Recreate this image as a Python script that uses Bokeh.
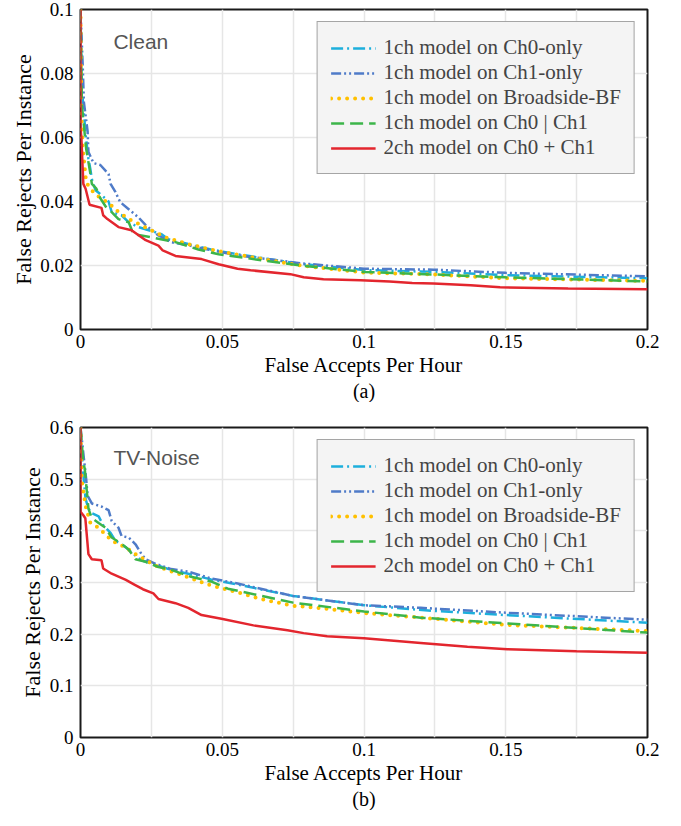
from bokeh.plotting import figure
from bokeh.models import FixedTicker, Label, Legend, LegendItem, Title
from bokeh.layouts import column
from bokeh.embed import file_html
from bokeh.resources import INLINE

SERIF = "Liberation Serif"
SANS = "Liberation Sans"

series_names = [
    "1ch model on Ch0-only",
    "1ch model on Ch1-only",
    "1ch model on Broadside-BF",
    "1ch model on Ch0 | Ch1",
    "2ch model on Ch0 + Ch1",
]
colors = ["#1DAFDC", "#4F7BC8", "#FFC000", "#3CB54A", "#E3262E"]
dashes = ["12 4 2 4", "10 3 2 3 2 3", "0 8", "13 6", "solid"]
widths = [2.5, 2.5, 4, 2.5, 2.5]

x_ticks = [0, 0.05, 0.1, 0.15, 0.2]
x_tick_labels = ["0", "0.05", "0.1", "0.15", "0.2"]
x_grid = [0.025, 0.05, 0.075, 0.1, 0.125, 0.15, 0.175]

# ---- (a) Clean ----
clean_yticks = [0, 0.02, 0.04, 0.06, 0.08, 0.1]
clean_ylabels = ["0", "0.02", "0.04", "0.06", "0.08", "0.1"]

clean_ch0_x = [0, 0.0005, 0.0018, 0.0028, 0.0035, 0.004, 0.0053, 0.0074, 0.0099, 0.011, 0.0145, 0.017, 0.0205, 0.0286, 0.031, 0.038, 0.046, 0.0554, 0.0776, 0.1, 0.1245, 0.15, 0.2]
clean_ch0_y = [0.1, 0.075, 0.061, 0.0533, 0.050, 0.047, 0.0435, 0.042, 0.040, 0.0367, 0.0357, 0.0335, 0.032, 0.0298, 0.0282, 0.0267, 0.025, 0.0235, 0.0205, 0.0186, 0.018, 0.017, 0.016]

clean_ch1_x = [0, 0.0008, 0.0012, 0.0025, 0.0028, 0.0046, 0.007, 0.0099, 0.0106, 0.0123, 0.014, 0.017, 0.0205, 0.023, 0.0275, 0.032, 0.038, 0.046, 0.0554, 0.0776, 0.1, 0.1245, 0.15, 0.2]
clean_ch1_y = [0.1, 0.082, 0.071, 0.062, 0.0555, 0.052, 0.0514, 0.0486, 0.0455, 0.043, 0.0398, 0.0376, 0.035, 0.0326, 0.0294, 0.0273, 0.0263, 0.0248, 0.0232, 0.0207, 0.019, 0.0187, 0.0177, 0.0166]

clean_bf_x = [0, 0.0003, 0.0008, 0.002, 0.0035, 0.0056, 0.0074, 0.0106, 0.0134, 0.017, 0.0205, 0.025, 0.030, 0.038, 0.046, 0.0547, 0.0776, 0.1, 0.1245, 0.15, 0.2]
clean_bf_y = [0.1, 0.068, 0.0565, 0.046, 0.044, 0.042, 0.041, 0.039, 0.0367, 0.0345, 0.033, 0.031, 0.0288, 0.0267, 0.025, 0.0235, 0.020, 0.0178, 0.0172, 0.016, 0.0152]

clean_or_x = [0, 0.0005, 0.002, 0.0035, 0.004, 0.0056, 0.007, 0.0092, 0.011, 0.0134, 0.017, 0.0187, 0.025, 0.0335, 0.0416, 0.0487, 0.0776, 0.1, 0.1245, 0.15, 0.2]
clean_or_y = [0.1, 0.07, 0.0565, 0.0486, 0.0455, 0.044, 0.041, 0.038, 0.0367, 0.0345, 0.0335, 0.0298, 0.0288, 0.0273, 0.025, 0.0235, 0.020, 0.018, 0.0172, 0.0163, 0.015]

clean_2ch_x = [0, 0, 0.0003, 0.001, 0.0018, 0.0032, 0.0074, 0.008, 0.0095, 0.0134, 0.018, 0.023, 0.0275, 0.029, 0.0335, 0.0427, 0.0487, 0.0554, 0.060, 0.074, 0.0787, 0.0857, 0.0988, 0.109, 0.117, 0.1245, 0.1376, 0.148, 0.172, 0.2]
clean_2ch_y = [0.1, 0.063, 0.06, 0.0455, 0.044, 0.039, 0.038, 0.0357, 0.0345, 0.032, 0.031, 0.0279, 0.0262, 0.0247, 0.023, 0.022, 0.0204, 0.019, 0.0185, 0.0173, 0.0163, 0.0157, 0.0154, 0.015, 0.0145, 0.0144, 0.0138, 0.0132, 0.0128, 0.0126]

# ---- (b) TV-Noise ----
tv_yticks = [0, 0.1, 0.2, 0.3, 0.4, 0.5, 0.6]
tv_ylabels = ["0", "0.1", "0.2", "0.3", "0.4", "0.5", "0.6"]

tv_ch0_x = [0, 0.0008, 0.0018, 0.0028, 0.004, 0.0064, 0.008, 0.0106, 0.0123, 0.016, 0.018, 0.0215, 0.0265, 0.032, 0.038, 0.046, 0.0554, 0.075, 0.1, 0.1245, 0.15, 0.2]
tv_ch0_y = [0.6, 0.52, 0.462, 0.443, 0.434, 0.428, 0.411, 0.396, 0.381, 0.368, 0.358, 0.343, 0.334, 0.3245, 0.317, 0.306, 0.296, 0.274, 0.256, 0.245, 0.237, 0.222]

tv_ch1_x = [0, 0.001, 0.002, 0.0025, 0.004, 0.0074, 0.0099, 0.011, 0.0134, 0.0145, 0.017, 0.0194, 0.0215, 0.023, 0.0265, 0.032, 0.038, 0.046, 0.0554, 0.075, 0.1, 0.12, 0.15, 0.2]
tv_ch1_y = [0.6, 0.55, 0.5, 0.468, 0.453, 0.447, 0.44, 0.419, 0.406, 0.39, 0.387, 0.374, 0.355, 0.345, 0.336, 0.326, 0.321, 0.308, 0.298, 0.274, 0.256, 0.251, 0.2415, 0.228]

tv_bf_x = [0, 0.0004, 0.001, 0.002, 0.0035, 0.0064, 0.0088, 0.011, 0.016, 0.0194, 0.023, 0.0275, 0.0346, 0.045, 0.0554, 0.0635, 0.075, 0.087, 0.1, 0.12, 0.15, 0.2]
tv_bf_y = [0.6, 0.5, 0.475, 0.443, 0.415, 0.406, 0.393, 0.381, 0.368, 0.355, 0.343, 0.33, 0.317, 0.296, 0.281, 0.268, 0.255, 0.249, 0.241, 0.232, 0.218, 0.206]

tv_or_x = [0, 0.001, 0.0015, 0.0028, 0.004, 0.0064, 0.0088, 0.011, 0.014, 0.017, 0.0194, 0.023, 0.0275, 0.032, 0.039, 0.046, 0.052, 0.075, 0.1, 0.12, 0.15, 0.2]
tv_or_y = [0.6, 0.532, 0.52, 0.443, 0.4245, 0.415, 0.406, 0.387, 0.377, 0.364, 0.345, 0.34, 0.33, 0.3245, 0.311, 0.302, 0.288, 0.261, 0.244, 0.232, 0.221, 0.203]

tv_2ch_x = [0, 0, 0.001, 0.0017, 0.0028, 0.004, 0.0074, 0.008, 0.011, 0.016, 0.019, 0.022, 0.0257, 0.0275, 0.0335, 0.038, 0.0427, 0.0497, 0.061, 0.073, 0.0787, 0.087, 0.1, 0.12, 0.1365, 0.1506, 0.175, 0.2]
tv_2ch_y = [0.6, 0.437, 0.43, 0.4245, 0.355, 0.345, 0.343, 0.327, 0.317, 0.305, 0.296, 0.287, 0.279, 0.268, 0.260, 0.251, 0.237, 0.230, 0.217, 0.2075, 0.202, 0.196, 0.192, 0.183, 0.1755, 0.171, 0.167, 0.164]


def make_panel(xs, ys, ymax, yticks, ylabels, note, note_y, caption, height, top):
    p = figure(width=665, height=height, x_range=(0, 0.2), y_range=(0, ymax),
               output_backend="svg", toolbar_location=None,
               min_border_left=80, min_border_right=18, min_border_top=top,
               min_border_bottom=0)
    p.background_fill_color = "white"
    p.border_fill_color = "white"
    p.outline_line_color = "#1a1a1a"
    p.outline_line_width = 2

    xa = p.xaxis[0]
    ya = p.yaxis[0]
    xa.ticker = FixedTicker(ticks=x_ticks)
    xa.major_label_overrides = dict(zip(x_ticks, x_tick_labels))
    ya.ticker = FixedTicker(ticks=yticks)
    ya.major_label_overrides = dict(zip(yticks, ylabels))
    p.xgrid.ticker = FixedTicker(ticks=x_grid)
    p.ygrid.ticker = FixedTicker(ticks=yticks[1:-1])
    for g in (p.xgrid[0], p.ygrid[0]):
        g.grid_line_color = "#e6e6e6"
        g.grid_line_width = 1.5

    for ax in (xa, ya):
        ax.axis_line_color = None
        ax.major_tick_line_color = None
        ax.minor_tick_line_color = None
        ax.major_tick_out = 0
        ax.major_tick_in = 0
        ax.major_label_text_font = SERIF
        ax.major_label_text_font_size = "19px"
        ax.major_label_text_font_style = "normal"
        ax.major_label_text_color = "black"
    xa.major_label_standoff = 5
    ya.major_label_standoff = 7

    p.add_layout(Title(text="False Rejects Per Instance", align="center", text_font=SERIF,
                       text_font_size="22px", text_font_style="normal", text_color="black",
                       standoff=4), "left")
    p.add_layout(Title(text="False Accepts Per Hour", align="center", text_font=SERIF,
                       text_font_size="21px", text_font_style="normal", text_color="black",
                       standoff=0), "below")
    p.add_layout(Title(text=caption, align="center", text_font=SERIF, text_font_size="20px",
                       text_font_style="normal", text_color="black", standoff=2), "below")

    renderers = []
    for i in range(5):
        r = p.line(xs[i], ys[i], line_color=colors[i], line_width=widths[i],
                   line_dash=dashes[i], line_cap="round" if i == 2 else "butt")
        renderers.append(r)

    legend = Legend(items=[LegendItem(label=series_names[i], renderers=[renderers[i]]) for i in range(5)],
                    location="top_right", margin=12, padding=13, spacing=-5,
                    glyph_width=45, glyph_height=20, label_height=20, label_standoff=8,
                    label_text_font=SERIF, label_text_font_size="21px",
                    background_fill_color="#f4f4f4", background_fill_alpha=1.0,
                    border_line_color="#555555", border_line_width=1.5)
    p.add_layout(legend, "center")

    p.add_layout(Label(x=0.0116, y=note_y, text=note, text_font=SANS, text_font_size="21px",
                       text_color="#555555", text_baseline="middle"))
    return p


p1 = make_panel([clean_ch0_x, clean_ch1_x, clean_bf_x, clean_or_x, clean_2ch_x],
                [clean_ch0_y, clean_ch1_y, clean_bf_y, clean_or_y, clean_2ch_y],
                0.1, clean_yticks, clean_ylabels, "Clean", 0.09, "(a)", 402, 9)
p2 = make_panel([tv_ch0_x, tv_ch1_x, tv_bf_x, tv_or_x, tv_2ch_x],
                [tv_ch0_y, tv_ch1_y, tv_bf_y, tv_or_y, tv_2ch_y],
                0.6, tv_yticks, tv_ylabels, "TV-Noise", 0.5415, "(b)", 408, 25)

layout = column(p1, p2, spacing=0)
open("out.html", "w").write(file_html(layout, INLINE))
